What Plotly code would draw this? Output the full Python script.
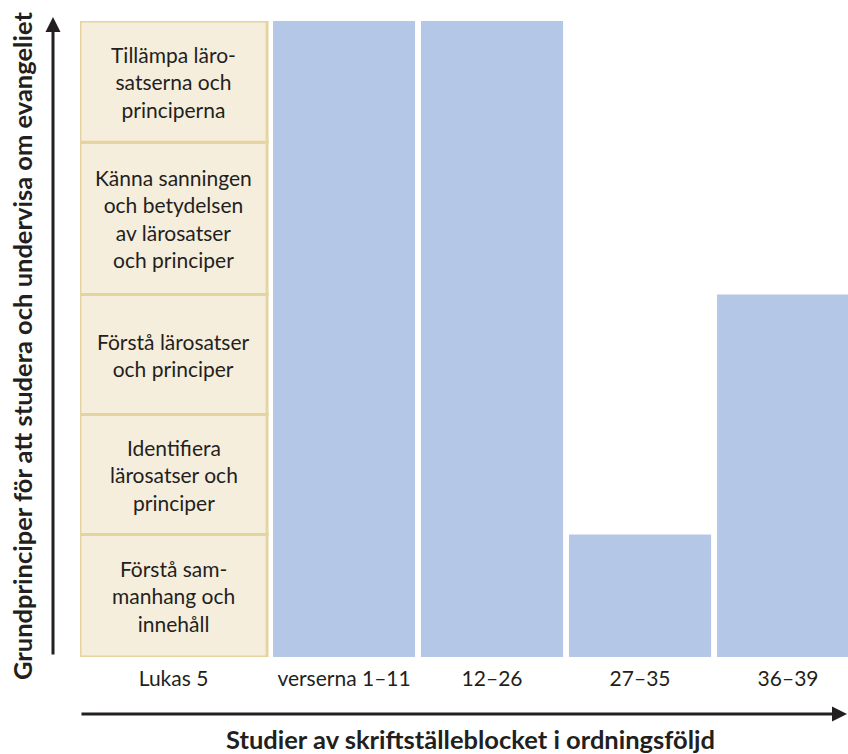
import plotly.graph_objects as go
import numpy as np

# ---------------- data ----------------
categories = ["Lukas 5", "verserna 1–11", "12–26", "27–35", "36–39"]
level_labels = [
    "Förstå sam-<br>manhang och<br>innehåll",
    "Identifiera<br>lärosatser och<br>principer",
    "Förstå lärosatser<br>och principer",
    "Känna sanningen<br>och betydelsen<br>av lärosatser<br>och principer",
    "Tillämpa läro-<br>satserna och<br>principerna",
]
level_heights = [1.02, 1.0, 1.0, 1.27, 1.01]   # relative height of each principle row
bar_levels = [5, 5, 1, 3]                       # highest principle reached by each block
y_title = "Grundprinciper för att studera och undervisa om evangeliet"
x_title = "Studier av skriftställeblocket i ordningsföljd"

# ---------------- styling ----------------
FONT = "Lato, Liberation Sans, sans-serif"
TXT = "#231f20"
BLUE = "#b4c7e7"
CELL_FILL = "#f6eedd"
CELL_LINE = "#e6d4a0"

W, H = 848, 754
ML, MR, MT, MB = 80, 0, 21, 97
PW, PH = W - ML - MR, H - MT - MB

cum = np.cumsum(level_heights)
bases = np.concatenate([[0], cum[:-1]])
total = cum[-1]
bar_vals = [cum[l - 1] for l in bar_levels]

bar_pos = np.arange(1, len(bar_levels) + 1)
bar_w = 0.96
cell_w = 1.264
cell_c = -0.152
xr = [-0.784, 4.405]

fig = go.Figure()

# principle column
for i, h in enumerate(level_heights):
    fig.add_trace(go.Bar(
        x=[cell_c], y=[h], base=[bases[i]], width=[cell_w],
        marker=dict(color=CELL_FILL, line=dict(color=CELL_LINE, width=3)),
        hoverinfo="skip", showlegend=False,
    ))
    fig.add_annotation(
        x=cell_c, y=bases[i] + h / 2, xref="x", yref="y",
        text=level_labels[i], showarrow=False,
        font=dict(family=FONT, size=21, color=TXT), align="center",
    )

# study blocks
fig.add_trace(go.Bar(
    x=bar_pos, y=bar_vals, width=[bar_w] * len(bar_vals),
    marker=dict(color=BLUE, line=dict(width=0)),
    hoverinfo="skip", showlegend=False,
))

fig.update_layout(
    width=W, height=H,
    margin=dict(l=ML, r=MR, t=MT, b=MB),
    paper_bgcolor="white", plot_bgcolor="white",
    barmode="overlay",
    xaxis=dict(range=xr, showgrid=False, zeroline=False, showline=False,
               tickmode="array", tickvals=[cell_c] + list(bar_pos), ticktext=categories,
               ticks="", ticklabelstandoff=7,
               tickfont=dict(family=FONT, size=21, color=TXT), fixedrange=True),
    yaxis=dict(range=[0, total], showgrid=False, zeroline=False, showline=False,
               showticklabels=False, ticks="", fixedrange=True),
    showlegend=False,
)

def py(px):
    return (H - MB - px) / PH

def pxx(px):
    return (px - ML) / PW

# vertical arrow
fig.add_annotation(x=pxx(53), y=py(17), xref="paper", yref="paper",
                   ax=0, ay=639, axref="pixel", ayref="pixel", text="",
                   showarrow=True, arrowhead=2, arrowsize=1.0, arrowwidth=3,
                   arrowcolor=TXT)
# horizontal arrow
fig.add_annotation(x=pxx(852), y=py(714), xref="paper", yref="paper",
                   ax=-772, ay=0, axref="pixel", ayref="pixel", text="",
                   showarrow=True, arrowhead=2, arrowsize=1.0, arrowwidth=3,
                   arrowcolor=TXT)

# axis titles
fig.add_annotation(x=pxx(22), y=py(346), xref="paper", yref="paper",
                   xanchor="center", yanchor="middle",
                   text="<b>" + y_title + "</b>", textangle=-90, showarrow=False,
                   font=dict(family=FONT, size=25.5, color=TXT))
fig.add_annotation(x=pxx(470), y=py(739), xref="paper", yref="paper",
                   xanchor="center", yanchor="middle",
                   text="<b>" + x_title + "</b>", showarrow=False,
                   font=dict(family=FONT, size=25.5, color=TXT))

fig.write_html("out.html", config={"displayModeBar": False},
               post_script="document.body.style.margin='0';document.body.style.overflow='hidden';")
